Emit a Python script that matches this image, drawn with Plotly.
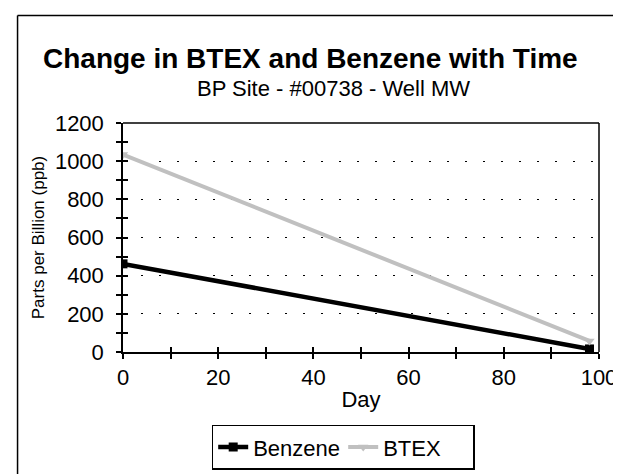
import plotly.graph_objects as go

days = [0, 98]
benzene = [462, 16]
btex = [1035, 58]
x_ticks = [0, 20, 40, 60, 80, 100]
y_ticks = [0, 200, 400, 600, 800, 1000, 1200]

W, H = 621, 474
L, R, T, B = 115, 23, 115, 129
pw, ph = W - L - R, H - T - B


def px(x):
    return (x - L) / pw


def py(y):
    return (T + ph - y) / ph


fig = go.Figure()
fig.add_trace(go.Scatter(x=days, y=benzene, name="Benzene", mode="lines+markers",
                         line=dict(color="black", width=4.5),
                         marker=dict(symbol="square", size=9, color="black")))
fig.add_trace(go.Scatter(x=days, y=btex, name="BTEX", mode="lines+markers",
                         line=dict(color="#c0c0c0", width=4),
                         marker=dict(symbol="triangle-down", size=9, color="#c0c0c0")))

font = "Arial, Liberation Sans, sans-serif"
axis_common = dict(showline=True, linecolor="black", linewidth=1.5, zeroline=False,
                   tickcolor="black", ticklen=5, tickwidth=1.5)
fig.update_layout(
    width=W, height=H,
    margin=dict(l=L, r=R, t=T, b=B),
    paper_bgcolor="white", plot_bgcolor="white",
    font=dict(family=font, color="black", size=22),
    showlegend=True,
    legend=dict(orientation="h", x=px(205), xanchor="left",
                y=py(418), yanchor="top",
                bordercolor="black", borderwidth=1.5, font=dict(size=22),
                itemwidth=30, entrywidth=85, entrywidthmode="pixels",
                tracegroupgap=0),
    xaxis=dict(range=[0, 100], tickvals=x_ticks, ticks="outside", showgrid=False,
               title=dict(text="Day", font=dict(size=22), standoff=2),
               tickfont=dict(size=22),
               minor=dict(dtick=10, ticks="outside", ticklen=5, tickcolor="black", tickwidth=1.5),
               **axis_common),
    yaxis=dict(range=[0, 1200], tickvals=y_ticks, ticks="outside", showgrid=True,
               gridcolor="black", gridwidth=1, griddash="2px,16px",
               title=dict(text="Parts per Billion (ppb)", font=dict(size=17), standoff=6),
               tickfont=dict(size=22), ticklabelstandoff=8,
               minor=dict(dtick=100, ticks="outside", ticklen=5, tickcolor="black", tickwidth=1.5),
               **axis_common),
    xaxis2=dict(range=[0, 100], overlaying="x", side="bottom", showticklabels=False,
                tickvals=x_ticks, ticks="inside", ticklen=5, tickwidth=1.5, tickcolor="black",
                minor=dict(dtick=10, ticks="inside", ticklen=5, tickcolor="black", tickwidth=1.5),
                showgrid=False, zeroline=False, showline=False),
    yaxis2=dict(range=[0, 1200], overlaying="y", side="left", showticklabels=False,
                tickvals=y_ticks, ticks="inside", ticklen=5, tickwidth=1.5, tickcolor="black",
                minor=dict(dtick=100, ticks="inside", ticklen=5, tickcolor="black", tickwidth=1.5),
                showgrid=False, zeroline=False, showline=False),
    annotations=[
        dict(text="<b>Change in BTEX and Benzene with Time</b>", xref="paper", yref="paper",
             x=px(305), y=py(50), showarrow=False, xanchor="center",
             yanchor="middle", font=dict(size=28)),
        dict(text="BP Site - #00738 - Well MW", xref="paper", yref="paper",
             x=px(329), y=py(80), showarrow=False, xanchor="center",
             yanchor="middle", font=dict(size=22)),
    ],
    shapes=[
        dict(type="line", xref="paper", yref="paper", x0=0, x1=1, y0=1, y1=1,
             line=dict(color="black", width=1.5)),
        dict(type="line", xref="paper", yref="paper", x0=1, x1=1, y0=0, y1=1,
             line=dict(color="black", width=1.5)),
        dict(type="line", xref="paper", yref="paper", x0=px(8), x1=px(W + 5),
             y0=py(7), y1=py(7), line=dict(color="black", width=1.5)),
        dict(type="line", xref="paper", yref="paper", x0=px(8), x1=px(8),
             y0=py(7), y1=py(H + 5), line=dict(color="black", width=1.5)),
    ],
)
fig.add_trace(go.Scatter(x=[None], y=[None], xaxis="x2", yaxis="y2", showlegend=False,
                         hoverinfo="skip"))
fig.write_html("out.html")
